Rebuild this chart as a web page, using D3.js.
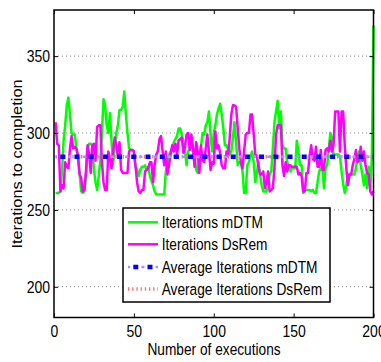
<!DOCTYPE html>
<html>
<head>
<meta charset="utf-8">
<script src="https://cdn.jsdelivr.net/npm/d3@7"></script>
<style>
body { margin: 0; background: #fff; }
</style>
</head>
<body>
<div id="chart"></div>
<script>
// values, one per execution (1..200)
var mdtm = [
	261,261,261,262,275,295,305,318,323,312,
	300,299,299,290,283,274,262,261,262,271,
	290,293,293,292,276,268,263,272,282,300,
	322,318,305,300,313,295,280,290,300,305,
	315,315,317,327,312,300,290,289,289,288,
	278,276,272,276,278,278,279,276,278,272,
	269,266,262,260,260,260,260,260,260,275,
	281,286,288,290,294,296,298,303,303,299,
	294,288,279,288,290,293,288,285,276,274,
	286,291,300,299,305,307,314,299,288,300,
	305,312,316,319,312,303,292,292,289,286,
	288,297,307,294,279,281,281,275,261,261,
	279,281,285,288,281,268,274,281,273,266,
	262,262,262,266,273,275,290,307,314,321,
	303,314,292,290,290,281,279,275,277,277,
	277,295,288,279,279,261,263,263,263,263,
	262,263,261,261,268,275,277,277,264,277,
	279,290,300,297,285,286,286,286,285,275,
	267,261,266,273,273,273,273,273,277,284,
	288,279,273,266,273,264,278,264,285,370
];
var dsrem = [
	307,293,292,262,266,264,281,278,277,290,
	298,290,291,290,286,273,271,262,263,275,
	292,286,274,292,293,282,304,305,305,281,
	268,263,263,288,284,277,288,297,292,284,
	294,276,274,274,274,274,288,289,289,288,
	279,268,262,261,263,263,275,276,277,281,
	281,268,279,286,288,296,298,288,279,288,
	273,279,286,292,288,293,286,295,296,297,
	287,291,299,300,289,299,291,278,294,288,
	274,292,282,281,290,299,288,276,281,280,
	301,290,292,287,279,277,277,288,285,297,
	312,318,318,317,303,290,281,277,288,299,
	300,300,312,312,299,286,285,278,273,273,
	275,264,268,275,262,263,264,277,299,305,
	305,305,279,272,281,275,279,279,278,278,
	278,278,273,274,272,262,262,274,274,285,
	292,283,282,291,278,278,289,276,276,289,
	290,288,295,288,292,314,314,314,288,314,
	314,292,277,266,273,273,279,283,289,281,
	282,291,282,288,279,274,273,262,260,262
];
var avgMdtm = 284.6;
var avgDsrem = 284.6;
var xTicks = [0, 50, 100, 150, 200];
var yTicks = [200, 250, 300, 350];
var legendLabels = ['Iterations mDTM', 'Iterations DsRem', 'Average Iterations mDTM', 'Average Iterations DsRem'];

var width = 381, height = 362;
var margin = {top: 10, right: 7.5, bottom: 44.5, left: 54};
var stretch = 1.17; // the picture's text is taller than it is wide
var font = '"Liberation Sans", Arial, Helvetica, sans-serif';

var svg = d3.select('#chart').append('svg').attr('width', width).attr('height', height);

var x = d3.scaleLinear().domain([0, 200]).range([margin.left, width - margin.right]);
var y = d3.scaleLinear().domain([180, 380]).range([height - margin.bottom, margin.top]);

// dotted horizontal grid
svg.append('g').selectAll('line').data(yTicks).join('line')
	.attr('x1', x(0)).attr('x2', x(200))
	.attr('y1', d => y(d)).attr('y2', d => y(d))
	.attr('stroke', '#8a8a8a')
	.attr('stroke-dasharray', '1,3');

var line = d3.line()
	.x((d, i) => x(i + 1))
	.y(d => y(d));

svg.append('path').datum(mdtm)
	.attr('fill', 'none').attr('stroke', '#00ff00').attr('stroke-width', 2.5)
	.attr('stroke-linejoin', 'round')
	.attr('d', line);

svg.append('path').datum(dsrem)
	.attr('fill', 'none').attr('stroke', '#ff00ff').attr('stroke-width', 2.5)
	.attr('stroke-linejoin', 'round')
	.attr('d', line);

// red dotted average
function redDotted(g, x1, x2, yy) {
	g.append('line')
		.attr('x1', x1).attr('x2', x2).attr('y1', yy).attr('y2', yy)
		.attr('stroke', '#ff7070').attr('stroke-width', 3.5)
		.attr('stroke-dasharray', '1.3,2.9');
}
// blue dash-dot average: bold squares with faint dashes between
function blueDashDot(g, x1, x2, yy, first) {
	g.append('line')
		.attr('x1', x1).attr('x2', x2).attr('y1', yy).attr('y2', yy)
		.attr('stroke', '#9a9aff').attr('stroke-width', 2.5)
		.attr('stroke-dasharray', '3,11.2')
		.attr('stroke-dashoffset', 14.2 - ((first + 8.1) % 14.2));
	g.append('line')
		.attr('x1', x1).attr('x2', x2).attr('y1', yy).attr('y2', yy)
		.attr('stroke', '#0000ff').attr('stroke-width', 4.5)
		.attr('stroke-dasharray', '5,9.2')
		.attr('stroke-dashoffset', 14.2 - first);
}

var avgGroup = svg.append('g');
redDotted(avgGroup, x(1), x(200), y(avgDsrem));
blueDashDot(avgGroup, x(1), x(200), y(avgMdtm), 4.7);

// axes, ticks pointing inward on all four sides
svg.append('g')
	.attr('transform', `translate(0,${y(180)})`)
	.call(d3.axisBottom(x).tickValues(xTicks).tickSize(-4).tickPadding(0))
	.call(g => g.select('.domain').remove())
	.call(g => g.selectAll('text')
		.attr('dy', null)
		.attr('y', 19.2 / stretch)
		.attr('transform', `scale(1,${stretch})`)
		.attr('fill', '#000')
		.style('font-size', '14px')
		.style('font-family', font));

svg.append('g')
	.attr('transform', `translate(0,${y(380)})`)
	.call(d3.axisTop(x).tickValues(xTicks).tickSize(-4).tickFormat(''))
	.call(g => g.select('.domain').remove());

svg.append('g')
	.attr('transform', `translate(${x(0)},0)`)
	.call(d3.axisLeft(y).tickValues(yTicks).tickSize(-4).tickPadding(4))
	.call(g => g.select('.domain').remove())
	.call(g => g.selectAll('text')
		.attr('dy', null)
		.attr('y', 5.7 / stretch)
		.attr('transform', `scale(1,${stretch})`)
		.attr('fill', '#000')
		.style('font-size', '14px')
		.style('font-family', font));

svg.append('g')
	.attr('transform', `translate(${x(200)},0)`)
	.call(d3.axisRight(y).tickValues(yTicks).tickSize(-4).tickFormat(''))
	.call(g => g.select('.domain').remove());

svg.append('rect')
	.attr('x', x(0)).attr('y', y(380))
	.attr('width', x(200) - x(0)).attr('height', y(180) - y(380))
	.attr('fill', 'none').attr('stroke', '#000').attr('stroke-width', 1.5);

// axis titles
svg.append('text')
	.attr('transform', `translate(${(x(0) + x(200)) / 2 + 0.3},355) scale(1,${stretch})`)
	.attr('text-anchor', 'middle')
	.style('font-size', '13.7px').style('font-family', font)
	.text('Number of executions');

svg.append('text')
	.attr('transform', `translate(21.7,164) rotate(-90) scale(${stretch},1)`)
	.attr('text-anchor', 'middle')
	.style('font-size', '14px').style('font-family', font)
	.text('Iterations to completion');

// legend
var legend = svg.append('g').attr('transform', 'translate(123,208)');
legend.append('rect')
	.attr('width', 207).attr('height', 94)
	.attr('fill', '#fff').attr('stroke', '#000').attr('stroke-width', 1.5);

var rowY = [14.3, 36.3, 59, 81];
legend.append('line')
	.attr('x1', 5).attr('x2', 35).attr('y1', rowY[0]).attr('y2', rowY[0])
	.attr('stroke', '#00ff00').attr('stroke-width', 2.5);
legend.append('line')
	.attr('x1', 5).attr('x2', 35).attr('y1', rowY[1]).attr('y2', rowY[1])
	.attr('stroke', '#ff00ff').attr('stroke-width', 2.5);
blueDashDot(legend, 5, 35, rowY[2], 5.3);
redDotted(legend, 5, 35, rowY[3]);

legend.selectAll('.label').data(legendLabels).join('text')
	.attr('class', 'label')
	.attr('transform', (d, i) => `translate(38.7,${rowY[i] + 6}) scale(1,${stretch})`)
	.style('font-size', '13.7px').style('font-family', font)
	.text(d => d);
</script>
</body>
</html>
